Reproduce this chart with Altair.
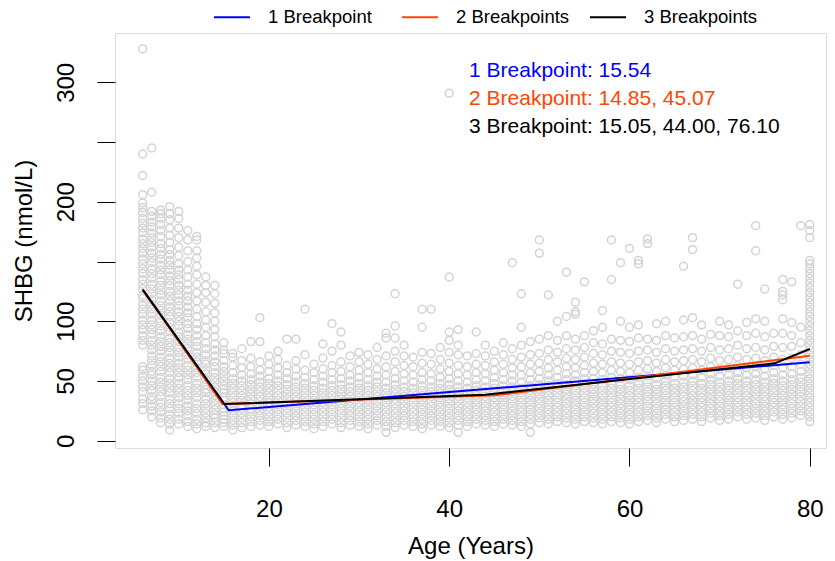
import altair as alt
import pandas as pd

# ---- scatter: SHBG values (nmol/L) by age (years) ----
y06 = [26, 31, 35, 41, 45, 50, 54, 59, 62, 80, 84, 88, 93, 97, 101, 106, 110, 114, 119, 122, 127, 131, 135, 140, 144, 148, 152, 157, 161, 165, 169, 174, 178, 182, 186, 191, 195, 199, 206, 222, 240, 328]
y07 = [20, 25, 29, 34, 37, 42, 46, 50, 55, 58, 63, 67, 71, 76, 80, 84, 89, 93, 97, 101, 106, 110, 114, 118, 123, 127, 131, 136, 140, 144, 149, 153, 157, 162, 166, 170, 174, 179, 183, 188, 192, 208, 245]
y08 = [15, 19, 24, 28, 32, 37, 41, 45, 49, 53, 58, 62, 66, 70, 75, 79, 83, 87, 92, 96, 100, 105, 109, 113, 117, 122, 126, 130, 134, 139, 143, 147, 152, 156, 161, 165, 171, 176, 181, 186, 190, 193]
y09 = [9, 14, 18, 22, 27, 31, 35, 40, 44, 48, 52, 57, 61, 65, 69, 74, 78, 82, 86, 91, 95, 99, 104, 108, 112, 117, 121, 125, 130, 134, 138, 143, 147, 151, 156, 160, 166, 172, 178, 185, 190, 196]
y10 = [14, 18, 23, 27, 31, 36, 40, 44, 48, 53, 57, 61, 65, 70, 74, 78, 83, 87, 91, 96, 100, 104, 108, 113, 117, 122, 126, 130, 135, 139, 143, 148, 155, 162, 170, 178, 186, 192]
y11 = [12, 16, 21, 25, 29, 34, 38, 42, 46, 51, 55, 59, 63, 68, 72, 77, 81, 85, 89, 94, 98, 103, 107, 112, 117, 121, 126, 131, 137, 143, 150, 159, 168, 176]
y12 = [10, 14, 18, 23, 27, 31, 36, 40, 44, 48, 53, 57, 61, 66, 70, 74, 79, 83, 88, 93, 98, 104, 110, 117, 124, 131, 139, 146, 153, 159, 168, 171]
y13 = [12, 15, 19, 23, 27, 31, 35, 40, 43, 47, 51, 56, 59, 64, 67, 72, 77, 82, 88, 95, 101, 108, 116, 124, 130, 137]
y14 = [11, 15, 19, 22, 26, 30, 34, 38, 41, 45, 49, 53, 57, 62, 66, 71, 76, 81, 87, 93, 100, 107, 115, 123, 130]
y15 = [12, 15, 18, 21, 24, 27, 30, 34, 36, 40, 43, 46, 50, 54, 58, 62, 67, 73, 76, 82]
y16 = [9, 13, 17, 21, 25, 28, 32, 36, 40, 44, 48, 52, 57, 63, 70, 73]
y17 = [11, 15, 19, 23, 27, 30, 34, 38, 42, 46, 50, 55, 61, 67, 77]
y18 = [12, 16, 20, 24, 27, 31, 35, 39, 43, 47, 51, 56, 62, 69, 83]
y19 = [13, 17, 21, 25, 29, 33, 37, 41, 45, 49, 54, 59, 66, 83, 103]
y20 = [12, 16, 20, 24, 28, 32, 36, 40, 44, 48, 52, 58, 64, 71]
y21 = [14, 18, 22, 26, 30, 34, 38, 42, 46, 50, 55, 61, 68, 75]
y22 = [11, 15, 19, 23, 27, 31, 35, 39, 43, 47, 52, 57, 63, 85]
y23 = [13, 17, 21, 25, 29, 33, 37, 41, 45, 49, 54, 60, 67, 85]
y24 = [12, 16, 20, 24, 28, 32, 36, 40, 44, 48, 53, 59, 72, 110]
y25 = [10, 14, 18, 22, 26, 30, 34, 38, 42, 46, 51, 57, 64]
y26 = [12, 16, 20, 24, 28, 32, 36, 40, 44, 49, 54, 60, 69, 81]
y27 = [14, 18, 22, 26, 30, 34, 38, 42, 46, 51, 57, 63, 75, 98]
y28 = [11, 15, 19, 23, 27, 31, 35, 39, 43, 47, 52, 58, 66, 80, 91]
y29 = [13, 17, 21, 25, 29, 33, 37, 41, 45, 50, 55, 62, 71]
y30 = [12, 16, 20, 24, 28, 32, 36, 40, 44, 48, 53, 59, 66, 74]
y31 = [10, 14, 18, 22, 26, 30, 34, 38, 42, 46, 51, 57, 64, 72]
y32 = [13, 17, 21, 25, 29, 33, 37, 41, 45, 49, 54, 60, 68, 78]
y33 = [7, 12, 16, 20, 24, 28, 32, 36, 40, 44, 49, 55, 62, 71, 86, 90]
y34 = [11, 15, 19, 23, 27, 31, 35, 39, 43, 47, 52, 58, 66, 75, 86, 96, 123]
y35 = [13, 17, 21, 25, 29, 33, 37, 41, 45, 50, 56, 63, 71, 80]
y36 = [12, 16, 20, 24, 28, 32, 36, 40, 44, 49, 55, 62, 70]
y37 = [10, 14, 18, 22, 26, 30, 34, 38, 42, 46, 51, 57, 65, 74, 95, 110]
y38 = [13, 17, 21, 25, 29, 33, 37, 41, 45, 50, 56, 64, 73, 110]
y39 = [12, 16, 20, 24, 28, 32, 36, 40, 44, 48, 53, 60, 68, 78]
y40 = [11, 15, 19, 23, 27, 31, 35, 39, 43, 47, 52, 58, 65, 74, 84, 91, 137, 291]
y41 = [7, 13, 17, 21, 25, 29, 33, 37, 41, 45, 50, 56, 63, 72, 80, 93]
y42 = [12, 16, 20, 24, 28, 32, 36, 40, 44, 49, 55, 62, 71]
y43 = [14, 18, 22, 26, 30, 34, 38, 42, 46, 51, 57, 64, 73, 91]
y44 = [13, 17, 21, 25, 29, 33, 37, 41, 45, 50, 56, 63, 71, 80]
y45 = [12, 16, 20, 24, 28, 32, 36, 40, 44, 48, 53, 59, 66, 75]
y46 = [14, 18, 22, 26, 30, 34, 38, 42, 46, 51, 57, 64, 72, 82]
y47 = [13, 17, 21, 25, 29, 33, 37, 41, 45, 50, 55, 61, 68, 77, 149]
y48 = [12, 16, 20, 24, 28, 32, 36, 40, 44, 49, 55, 62, 70, 80, 95, 123]
y49 = [7, 14, 18, 22, 26, 30, 34, 38, 42, 46, 51, 57, 64, 72, 83]
y50 = [15, 19, 23, 27, 31, 35, 39, 43, 47, 52, 58, 65, 73, 85, 157, 168]
y51 = [14, 18, 22, 26, 30, 34, 38, 42, 46, 50, 55, 61, 68, 76, 88, 122]
y52 = [16, 20, 24, 28, 32, 36, 40, 44, 48, 53, 59, 66, 74, 84, 100]
y53 = [15, 19, 23, 27, 31, 35, 39, 43, 47, 51, 56, 62, 69, 77, 88, 104, 141]
y54 = [14, 18, 22, 26, 30, 34, 38, 42, 46, 50, 55, 61, 68, 76, 85, 106, 108, 116]
y55 = [16, 20, 24, 28, 32, 36, 40, 44, 48, 52, 57, 63, 70, 78, 88, 133]
y56 = [15, 19, 23, 27, 31, 35, 39, 43, 47, 52, 58, 65, 73, 82, 92]
y57 = [14, 18, 22, 26, 30, 34, 38, 42, 46, 51, 57, 64, 72, 81, 95, 109]
y58 = [16, 20, 24, 28, 32, 36, 40, 44, 48, 53, 59, 66, 75, 85, 135, 168]
y59 = [15, 19, 23, 27, 31, 35, 39, 43, 47, 52, 58, 65, 74, 84, 100, 149]
y60 = [14, 18, 22, 26, 30, 34, 38, 42, 46, 51, 57, 64, 73, 83, 95, 161]
y61 = [16, 20, 24, 28, 32, 36, 40, 44, 48, 53, 59, 66, 75, 86, 97, 148, 151]
y62 = [17, 21, 25, 29, 33, 37, 41, 45, 49, 54, 60, 67, 76, 85, 165, 169]
y63 = [15, 19, 23, 27, 31, 35, 39, 43, 47, 52, 58, 65, 74, 84, 98]
y64 = [18, 22, 26, 30, 34, 38, 42, 46, 50, 55, 61, 68, 77, 88, 100]
y65 = [16, 20, 24, 28, 32, 36, 40, 44, 48, 53, 59, 66, 75, 86]
y66 = [17, 21, 25, 29, 33, 37, 41, 45, 49, 54, 60, 67, 76, 87, 101, 146]
y67 = [18, 22, 26, 30, 34, 38, 42, 46, 50, 55, 61, 68, 77, 88, 103, 160, 170]
y68 = [16, 20, 24, 28, 32, 36, 40, 44, 48, 53, 59, 66, 75, 85, 97]
y69 = [19, 23, 27, 31, 35, 39, 43, 47, 51, 56, 62, 69, 78, 89]
y70 = [17, 21, 25, 29, 33, 37, 41, 45, 49, 54, 60, 67, 76, 88, 100]
y71 = [18, 22, 26, 30, 34, 38, 42, 46, 50, 55, 61, 68, 77, 87, 97]
y72 = [20, 24, 28, 32, 36, 40, 44, 48, 52, 57, 63, 70, 80, 92, 131]
y73 = [18, 22, 26, 30, 34, 38, 42, 46, 50, 55, 61, 68, 77, 88, 99]
y74 = [19, 23, 27, 31, 35, 39, 43, 47, 51, 56, 62, 69, 78, 90, 102, 159, 180]
y75 = [17, 21, 25, 29, 33, 37, 41, 45, 49, 54, 60, 67, 76, 87, 100, 127]
y76 = [20, 24, 28, 32, 36, 40, 44, 48, 52, 57, 63, 70, 79, 90]
y77 = [18, 22, 26, 30, 34, 38, 42, 46, 50, 55, 61, 68, 78, 90, 102, 118, 122, 125, 135]
y78 = [19, 23, 27, 31, 35, 39, 43, 47, 51, 56, 62, 69, 79, 88, 99, 133]
y79 = [21, 25, 29, 33, 37, 41, 45, 49, 53, 58, 64, 72, 82, 95, 180]
y80 = [16, 20, 24, 28, 32, 36, 40, 44, 48, 52, 56, 60, 64, 68, 72, 76, 80, 84, 88, 92, 96, 100, 104, 108, 112, 116, 120, 124, 128, 132, 136, 140, 144, 148, 151, 170, 176, 181]

point_ages = [6, 7, 8, 9, 10, 11, 12, 13, 14, 15, 16, 17, 18, 19, 20, 21, 22, 23, 24, 25,
              26, 27, 28, 29, 30, 31, 32, 33, 34, 35, 36, 37, 38, 39, 40, 41, 42, 43, 44, 45,
              46, 47, 48, 49, 50, 51, 52, 53, 54, 55, 56, 57, 58, 59, 60, 61, 62, 63, 64, 65,
              66, 67, 68, 69, 70, 71, 72, 73, 74, 75, 76, 77, 78, 79, 80]
point_values = [y06, y07, y08, y09, y10, y11, y12, y13, y14, y15, y16, y17, y18, y19, y20,
                y21, y22, y23, y24, y25, y26, y27, y28, y29, y30, y31, y32, y33, y34, y35,
                y36, y37, y38, y39, y40, y41, y42, y43, y44, y45, y46, y47, y48, y49, y50,
                y51, y52, y53, y54, y55, y56, y57, y58, y59, y60, y61, y62, y63, y64, y65,
                y66, y67, y68, y69, y70, y71, y72, y73, y74, y75, y76, y77, y78, y79, y80]

# ---- segmented fits ----
series_names = ["1 Breakpoint", "2 Breakpoints", "3 Breakpoints"]
series_colors = ["#0000FF", "#FF4500", "#000000"]
fit1_age = [6, 15.54, 80]
fit1_shbg = [126.5, 25.5, 65.6]
fit2_age = [6, 14.85, 45.07, 80]
fit2_shbg = [126.5, 30.7, 38.0, 71.2]
fit3_age = [6, 15.05, 44.00, 76.10, 80]
fit3_shbg = [126.5, 30.7, 38.5, 64.8, 76.8]

# ---- annotations ----
note_texts = ["1 Breakpoint: 15.54", "2 Breakpoint: 14.85, 45.07", "3 Breakpoint: 15.05, 44.00, 76.10"]
note_age = [42.2, 42.2, 42.2]
note_shbg = [304.7, 281.0, 257.3]

x_ticks = [20, 40, 60, 80]
y_ticks = [0, 50, 100, 150, 200, 250, 300]

FONT = "Liberation Sans"

pts = pd.DataFrame(
    [(a, v) for a, vals in zip(point_ages, point_values) for v in vals],
    columns=["age", "shbg"],
)
fits = []
for name, ages, vals in zip(series_names, [fit1_age, fit2_age, fit3_age], [fit1_shbg, fit2_shbg, fit3_shbg]):
    for i, (a, v) in enumerate(zip(ages, vals)):
        fits.append({"series": name, "age": a, "shbg": v, "order": i})
fits = pd.DataFrame(fits)
notes = pd.DataFrame({"text": note_texts, "age": note_age, "shbg": note_shbg, "series": series_names})

xscale = alt.Scale(domain=[2.93, 81.8], nice=False, zero=False)
yscale = alt.Scale(domain=[-6.1, 341.3], nice=False, zero=False)

xaxis = alt.Axis(values=x_ticks, title="Age (Years)", grid=False, domain=False,
                 tickSize=18, tickColor="black", tickWidth=1,
                 labelFontSize=24, labelFont=FONT, labelColor="black",
                 labelBaseline="alphabetic", labelPadding=50,
                 titleFontSize=24, titleFont=FONT, titleFontWeight="normal", titleColor="black",
                 titleBaseline="alphabetic", titleY=105)
yaxis = alt.Axis(values=y_ticks, title="SHBG (nmol/L)", grid=False, domain=False,
                 tickSize=18, tickColor="black", tickWidth=1,
                 labelFontSize=24, labelFont=FONT, labelColor="black",
                 labelAngle=270, labelAlign="center", labelBaseline="alphabetic", labelPadding=24,
                 labelExpr="(datum.value == 150 || datum.value == 250) ? '' : datum.label",
                 titleFontSize=24, titleFont=FONT, titleFontWeight="normal", titleColor="black",
                 titleAngle=270, titleBaseline="alphabetic", titleX=-84)

points = alt.Chart(pts).mark_point(shape="circle", filled=False, size=62, strokeWidth=1.5,
                                    color="#D3D3D3", opacity=1).encode(
    x=alt.X("age:Q", scale=xscale, axis=xaxis),
    y=alt.Y("shbg:Q", scale=yscale, axis=yaxis),
)

lines = alt.Chart(fits).mark_line(strokeWidth=2).encode(
    x=alt.X("age:Q", scale=xscale),
    y=alt.Y("shbg:Q", scale=yscale),
    order="order:Q",
    color=alt.Color("series:N",
                    scale=alt.Scale(domain=series_names, range=series_colors),
                    legend=alt.Legend(title=None, orient="none", direction="horizontal",
                                      legendX=98, legendY=-35, padding=0,
                                      symbolType="stroke", symbolSize=1296, symbolStrokeWidth=2,
                                      labelFontSize=18.5, labelFont=FONT, labelColor="black",
                                      labelOffset=17, columnPadding=16, gridAlign="all",
                                      labelLimit=300)),
)

text = alt.Chart(notes).mark_text(align="left", baseline="alphabetic", fontSize=21, font=FONT).encode(
    x=alt.X("age:Q", scale=xscale),
    y=alt.Y("shbg:Q", scale=yscale),
    text="text:N",
    color=alt.Color("series:N", scale=alt.Scale(domain=series_names, range=series_colors), legend=None),
)

chart = alt.layer(points, lines, text).properties(
    width=711, height=415,
    padding={"left": 115, "top": 33, "right": 9, "bottom": 113},
    autosize=alt.AutoSizeParams(type="none"),
).configure_view(stroke="black", strokeWidth=1.2).configure(background="white")

chart.save("out.html", embed_options={"renderer": "svg", "actions": False})
